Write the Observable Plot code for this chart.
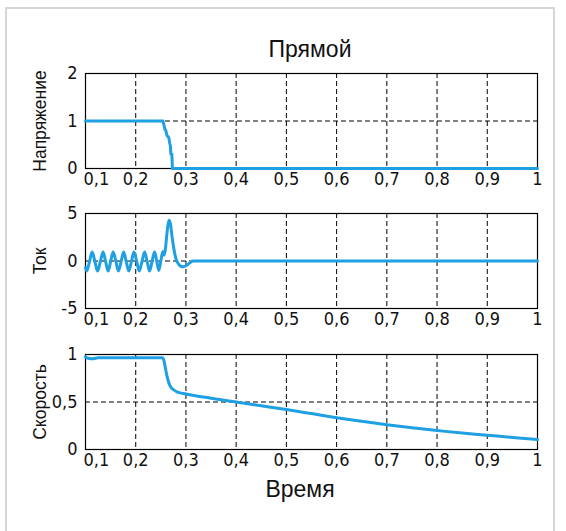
<!DOCTYPE html>
<html>
<head>
<meta charset="utf-8">
<script src="https://cdn.jsdelivr.net/npm/d3@7"></script>
<script src="https://cdn.jsdelivr.net/npm/@observablehq/plot@0.6"></script>
<style>
  html, body { margin: 0; padding: 0; background: #fff; }
  #wrap { position: relative; width: 566px; height: 531px; overflow: hidden; }
  #border { position: absolute; left: 5px; top: 7px; width: 550px; height: 540px; border: 2px solid #d6d6d6; box-sizing: border-box; }
  .panel { position: absolute; left: 0; }
  .lbl { position: absolute; font-family: "Liberation Sans", Arial, sans-serif; color: #111; white-space: nowrap; transform: translateX(-50%); }
</style>
</head>
<body>
<div id="wrap">
  <div id="border"></div>
  <div class="lbl" style="left:310px; top:36px; font-size:23px;">Прямой</div>
  <div class="lbl" style="left:300px; top:476px; font-size:23px;">Время</div>
</div>
<script>
// ---- data ----
const xTicks = [0.1, 0.2, 0.3, 0.4, 0.5, 0.6, 0.7, 0.8, 0.9, 1];
const xGrid = [0.2, 0.3, 0.4, 0.5, 0.6, 0.7, 0.8, 0.9];

const voltageT = [0.1, 0.254, 0.256, 0.258, 0.26, 0.262, 0.264, 0.266, 0.267, 0.268, 0.269, 0.27, 0.272, 0.273, 1];
const voltageV = [1, 1, 0.93, 0.83, 0.8, 0.7, 0.67, 0.65, 0.58, 0.52, 0.48, 0.3, 0.3, 0, 0];

const currentT = [0.1, 0.1025, 0.108, 0.1133, 0.1187, 0.1242, 0.1296, 0.1351, 0.14, 0.145, 0.15, 0.155, 0.1605, 0.1655, 0.171, 0.176, 0.181, 0.1863, 0.1915, 0.1966, 0.202, 0.207, 0.2125, 0.2177, 0.2227, 0.2276, 0.2326, 0.2375, 0.242, 0.246, 0.25, 0.254, 0.2565, 0.259, 0.262, 0.2645, 0.267, 0.2695, 0.272, 0.275, 0.278, 0.281, 0.285, 0.29, 0.295, 0.3, 0.305, 0.31, 0.314, 0.33, 1];
const currentV = [-0.7, -1.05, -0.05, 0.95, -0.05, -1.05, -0.05, 0.95, -0.05, -1.05, -0.05, 0.95, -0.05, -1.05, -0.05, 0.95, -0.05, -1.05, -0.05, 0.95, -0.05, -1.05, -0.05, 0.95, -0.05, -1.05, -0.05, 0.95, -0.05, -1.0, 0, 1.0, 0.6, 1.2, 2.8, 3.9, 4.3, 3.8, 2.7, 1.6, 0.7, 0.1, -0.3, -0.55, -0.6, -0.5, -0.3, -0.1, 0, 0, 0];

const speedT = [0.1, 0.105, 0.115, 0.125, 0.2, 0.253, 0.256, 0.259, 0.262, 0.266, 0.27, 0.275, 0.283, 0.3, 0.35, 0.4, 0.45, 0.5, 0.55, 0.6, 0.65, 0.7, 0.75, 0.8, 0.85, 0.9, 0.95, 1.0];
const speedV = [0.975, 0.96, 0.955, 0.965, 0.965, 0.965, 0.94, 0.86, 0.78, 0.7, 0.655, 0.63, 0.605, 0.585, 0.54, 0.5, 0.46, 0.42, 0.378, 0.335, 0.297, 0.26, 0.228, 0.2, 0.173, 0.15, 0.127, 0.105];

const labels = ["Напряжение", "Ток", "Скорость"];
const yTicks1 = [0, 1, 2];
const yTicks2 = [-5, 0, 5];
const yTicks3 = [0, 0.5, 1];

// ---- drawing ----
const blue = "#1ea0e2";
const tickFont = "'Liberation Sans Narrow', 'DejaVu Sans Condensed', 'Arial Narrow', sans-serif";
const labelFont = "'Liberation Sans', Arial, sans-serif";
const fmt = d => String(d).replace(".", ",");

function zip(ts, vs) { return ts.map((t, i) => ({t, v: vs[i]})); }

function panel(data, yDomain, yTicks, yGrid, yLabel, top, curve) {
  const svg = Plot.plot({
    width: 566, height: 135,
    marginLeft: 85, marginRight: 29, marginTop: 10, marginBottom: 30,
    x: {domain: [0.1, 1], axis: null},
    y: {domain: yDomain, axis: null},
    style: {background: "transparent", overflow: "visible"},
    marks: [
      Plot.ruleX(xGrid, {stroke: "#000", strokeWidth: 1, strokeDasharray: "5,3"}),
      Plot.ruleY([yGrid], {stroke: "#000", strokeWidth: 1, strokeDasharray: "5,3"}),
      Plot.frame({stroke: "#000", strokeWidth: 1.2}),
      Plot.line(data, {x: "t", y: "v", stroke: blue, strokeWidth: 3, curve}),
      Plot.text(xTicks.slice(1), {x: d => d, text: fmt, frameAnchor: "bottom", lineAnchor: "top", dy: 4, fontSize: 18, fontFamily: tickFont, fill: "#111"}),
      Plot.text(xTicks.slice(0, 1), {x: d => d, text: fmt, frameAnchor: "bottom", lineAnchor: "top", textAnchor: "start", dx: -2, dy: 4, fontSize: 18, fontFamily: tickFont, fill: "#111"}),
      Plot.text(yTicks, {y: d => d, text: fmt, frameAnchor: "left", textAnchor: "end", dx: -8, fontSize: 18, fontFamily: tickFont, fill: "#111"}),
      Plot.text([yLabel], {frameAnchor: "left", dx: -45, rotate: -90, textAnchor: "middle", lineAnchor: "middle", fontSize: 17.5, fontFamily: labelFont, fill: "#111"})
    ]
  });
  const div = document.createElement("div");
  div.className = "panel";
  div.style.top = top + "px";
  div.appendChild(svg);
  document.getElementById("wrap").appendChild(div);
}

panel(zip(voltageT, voltageV), [0, 2], yTicks1, 1, labels[0], 63, "linear");
panel(zip(currentT, currentV), [-5, 5], yTicks2, 0, labels[1], 203, "monotone-x");
panel(zip(speedT, speedV), [0, 1], yTicks3, 0.5, labels[2], 344, "monotone-x");
</script>
</body>
</html>
